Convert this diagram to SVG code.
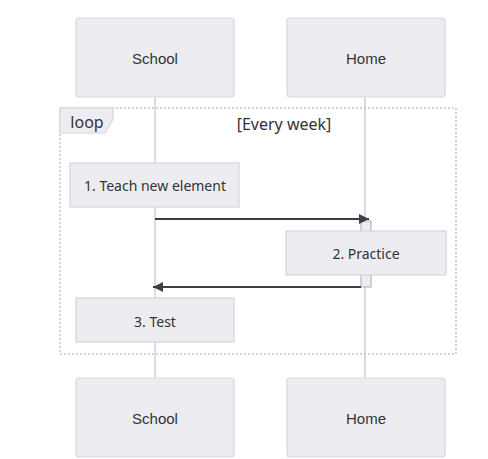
<svg xmlns="http://www.w3.org/2000/svg" width="488" height="459" viewBox="0 0 488 459">
<defs>
<style>
.actor{fill:#edecf1;stroke:#d9d8e0;stroke-width:1.2}
.note{fill:#edecf1;stroke:#d6d5dd;stroke-width:1.2}
.life{stroke:#cfcfd6;stroke-width:1.5}
.msg{stroke:#3c3f47;stroke-width:2;fill:none}
.atext{font-family:"Liberation Sans",Arial,sans-serif;font-size:15px;fill:#333;text-anchor:middle;dominant-baseline:central}
.ntext{font-family:"Noto Sans",sans-serif;font-size:14px;fill:#333;text-anchor:middle;dominant-baseline:central}
.ltext{font-family:"Noto Sans",sans-serif;font-size:16px;fill:#333;text-anchor:middle;dominant-baseline:central}
.loopbox{fill:none;stroke:#c4c4cc;stroke-width:1.5;stroke-dasharray:2,2}
</style>
<marker id="arrow" markerWidth="12" markerHeight="12" refX="10" refY="5" orient="auto" markerUnits="userSpaceOnUse">
<path d="M0,0 L10,5 L0,10 z" fill="#3c3f47"/>
</marker>
</defs>
<rect width="488" height="459" fill="#ffffff"/>
<g id="lifelines">
<line class="life" x1="155" y1="97" x2="155" y2="378"/>
<line class="life" x1="365" y1="97" x2="365" y2="378"/>
</g>
<g id="actor-school-top">
<rect class="actor" x="76" y="18" width="158" height="79" rx="3"/>
<text class="atext" x="155" y="58">School</text>
</g>
<g id="actor-home-top">
<rect class="actor" x="287" y="18" width="158" height="79" rx="3"/>
<text class="atext" x="366" y="58">Home</text>
</g>
<g id="loop">
<rect class="loopbox" x="60" y="108" width="396" height="246"/>
<path d="M60,108 L113,108 L113,119 L105,133 L60,133 z" fill="#edecf1" stroke="#d6d5dd" stroke-width="1.2"/>
<text class="ltext" x="87" y="122">loop</text>
<text class="ltext" x="284" y="124">[Every week]</text>
</g>
<g id="activation-home">
<rect x="361" y="221" width="10" height="66" fill="#edecf1" stroke="#aaa9b2" stroke-width="1"/>
</g>
<g id="note-1">
<rect class="note" x="70" y="163" width="169" height="44"/>
<text class="ntext" x="155" y="185">1. Teach new element</text>
</g>
<g id="note-2">
<rect class="note" x="286" y="231" width="160" height="44"/>
<text class="ntext" x="366" y="253">2. Practice</text>
</g>
<g id="note-3">
<rect class="note" x="76" y="298" width="158" height="44"/>
<text class="ntext" x="155" y="321">3. Test</text>
</g>
<g id="connectors">
<line class="msg" x1="155" y1="219" x2="369" y2="219" marker-end="url(#arrow)"/>
<line class="msg" x1="361" y1="287" x2="153" y2="287" marker-end="url(#arrow)"/>
</g>
<g id="actor-school-bottom">
<rect class="actor" x="76" y="378" width="158" height="79" rx="3"/>
<text class="atext" x="155" y="418">School</text>
</g>
<g id="actor-home-bottom">
<rect class="actor" x="287" y="378" width="158" height="79" rx="3"/>
<text class="atext" x="366" y="418">Home</text>
</g>
</svg>
